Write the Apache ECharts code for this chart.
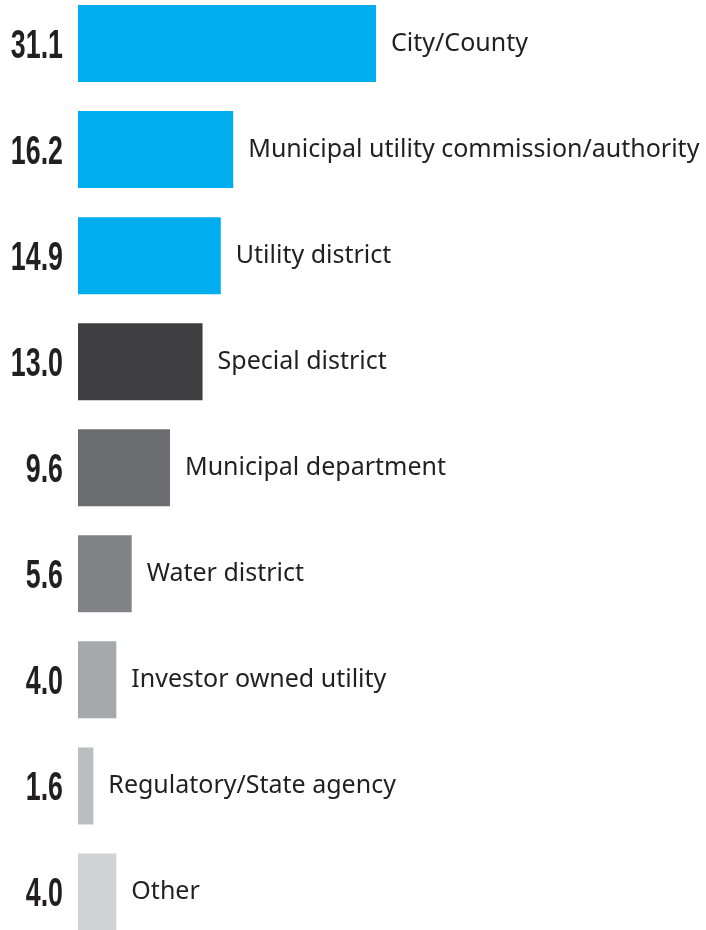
<!DOCTYPE html>
<html>
<head>
  <meta charset="UTF-8">
  <title>Utility types</title>
  <script src="https://cdn.jsdelivr.net/npm/echarts@6/dist/echarts.min.js"></script>
  <style>
    body { margin: 0; padding: 0; background: #fff; }
    #chart { width: 706px; height: 930px; }
  </style>
</head>
<body>
  <div id="chart"></div>
  <script>
    // data
    var categories = ['City/County', 'Municipal utility commission/authority', 'Utility district',
      'Special district', 'Municipal department', 'Water district', 'Investor owned utility',
      'Regulatory/State agency', 'Other'];
    var values = [31.1, 16.2, 14.9, 13.0, 9.6, 5.6, 4.0, 1.6, 4.0];
    var valueLabels = ['31.1', '16.2', '14.9', '13.0', '9.6', '5.6', '4.0', '1.6', '4.0'];
    var barColors = ['#00aeef', '#00aeef', '#00aeef', '#3f3f41', '#6b6c70', '#818286', '#a7a8ac', '#bcbdc1', '#d1d2d4'];

    var chart = echarts.init(document.getElementById('chart'), null, { renderer: 'canvas' });

    var xMax = 65;
    var pxPerUnit = 298 / 31.1;

    // condensed number labels: no narrow font installed, so squeeze a bold sans
    function renderValueLabel(params, api) {
      var idx = api.value(0);
      var p = api.coord([0, idx]);
      return {
        type: 'text',
        x: p[0] - 15,
        y: p[1] + 3,
        scaleX: 0.67,
        style: {
          text: valueLabels[idx],
          font: 'bold 40px "Liberation Sans", Arial, sans-serif',
          fill: '#231f20',
          align: 'right',
          verticalAlign: 'middle'
        }
      };
    }

    chart.setOption({
      animation: false,
      grid: { left: 78, top: -9.5, width: xMax * pxPerUnit, height: 954.5, outerBoundsMode: 'none', containLabel: false },
      xAxis: {
        type: 'value', min: 0, max: xMax, show: false
      },
      yAxis: {
        type: 'category',
        data: categories,
        inverse: true,
        axisLine: { show: false },
        axisTick: { show: false },
        splitLine: { show: false },
        axisLabel: { show: false }
      },
      series: [{
        type: 'bar',
        barWidth: 77,
        data: values.map(function (v, i) {
          return { value: v, itemStyle: { color: barColors[i] } };
        }),
        label: {
          show: true,
          position: 'right',
          distance: 15,
          fontFamily: '"Noto Sans", sans-serif',
          fontSize: 25,
          color: '#231f20',
          formatter: function (p) { return categories[p.dataIndex]; }
        }
      }, {
        type: 'custom',
        renderItem: renderValueLabel,
        encode: { y: 0 },
        data: valueLabels.map(function (t, i) { return [i]; }),
        silent: true
      }]
    });
  </script>
</body>
</html>
